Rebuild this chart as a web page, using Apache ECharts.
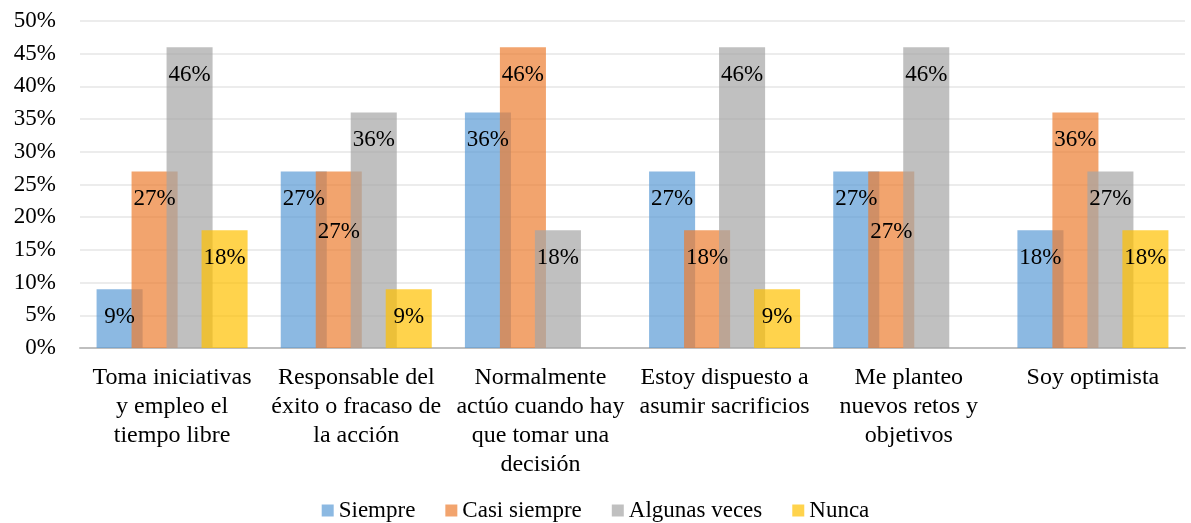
<!DOCTYPE html>
<html>
<head>
<meta charset="utf-8">
<script src="https://cdn.jsdelivr.net/npm/echarts@6/dist/echarts.min.js"></script>
<style>
  html, body { margin: 0; padding: 0; background: #fff; }
  #chart { width: 1191px; height: 523px; }
</style>
</head>
<body>
<div id="chart"></div>
<script>
const categories = [
  'Toma iniciativas\ny empleo el\ntiempo libre',
  'Responsable del\néxito o fracaso de\nla acción',
  'Normalmente\nactúo cuando hay\nque tomar una\ndecisión',
  'Estoy dispuesto a\nasumir sacrificios',
  'Me planteo\nnuevos retos y\nobjetivos',
  'Soy optimista'
];
const seriesNames = ['Siempre', 'Casi siempre', 'Algunas veces', 'Nunca'];
const siempre = [9, 27, 36, 27, 27, 18];
const casiSiempre = [27, 27, 46, 18, 27, 36];
const algunasVeces = [46, 36, 18, 46, 46, 27];
const nunca = [18, 9, 0, 9, 0, 18];
const yTicks = [0, 5, 10, 15, 20, 25, 30, 35, 40, 45, 50];

// colores de Office con transparencia (el solape sale más oscuro)
const colors = [
  'rgba(91,155,213,0.7)',
  'rgba(237,125,49,0.7)',
  'rgba(165,165,165,0.7)',
  'rgba(255,192,0,0.7)'
];
const font = '"Liberation Serif", "Times New Roman", serif';

// label a la altura del anterior -> se baja para no pisarlo
function buildData(vals, prev) {
  return vals.map((v, i) => {
    const item = { value: v };
    if (prev && prev[i] === v) item.label = { offset: [0, 33] };
    return item;
  });
}

const allData = [siempre, casiSiempre, algunasVeces, nunca];

const chart = echarts.init(document.getElementById('chart'));
chart.setOption({
  animation: false,
  textStyle: { fontFamily: font },
  legend: {
    data: seriesNames,
    top: 494,
    left: 'center',
    icon: 'rect',
    itemWidth: 12,
    itemHeight: 12,
    itemGap: 30,
    textStyle: { fontFamily: font, fontSize: 23, color: '#000' }
  },
  grid: { left: 80, right: 6, top: 21, bottom: 175 },
  xAxis: {
    type: 'category',
    data: categories,
    axisTick: { show: false },
    axisLine: { lineStyle: { color: '#bfbfbf', width: 2 } },
    axisLabel: {
      interval: 0,
      color: '#000',
      fontFamily: font,
      fontSize: 24,
      lineHeight: 29,
      margin: 15
    }
  },
  yAxis: {
    type: 'value',
    min: 0,
    max: 50,
    interval: 5,
    axisLine: { show: false },
    axisTick: { show: false },
    splitLine: { lineStyle: { color: '#e6e6e6', width: 1.5 } },
    axisLabel: {
      color: '#000',
      fontFamily: font,
      fontSize: 23,
      margin: 24,
      formatter: v => yTicks.includes(v) ? v + '%' : ''
    }
  },
  series: seriesNames.map((name, s) => ({
    name: name,
    type: 'bar',
    data: buildData(allData[s], s > 0 ? allData[s - 1] : null),
    barGap: '-24%',
    barCategoryGap: '18%',
    itemStyle: { color: colors[s] },
    label: {
      show: true,
      position: 'insideTop',
      distance: 16,
      color: '#000',
      fontFamily: font,
      fontSize: 23,
      formatter: p => p.value > 0 ? p.value + '%' : ''
    }
  }))
});
window.onresize = function () {
  chart.resize();
};
</script>
</body>
</html>
